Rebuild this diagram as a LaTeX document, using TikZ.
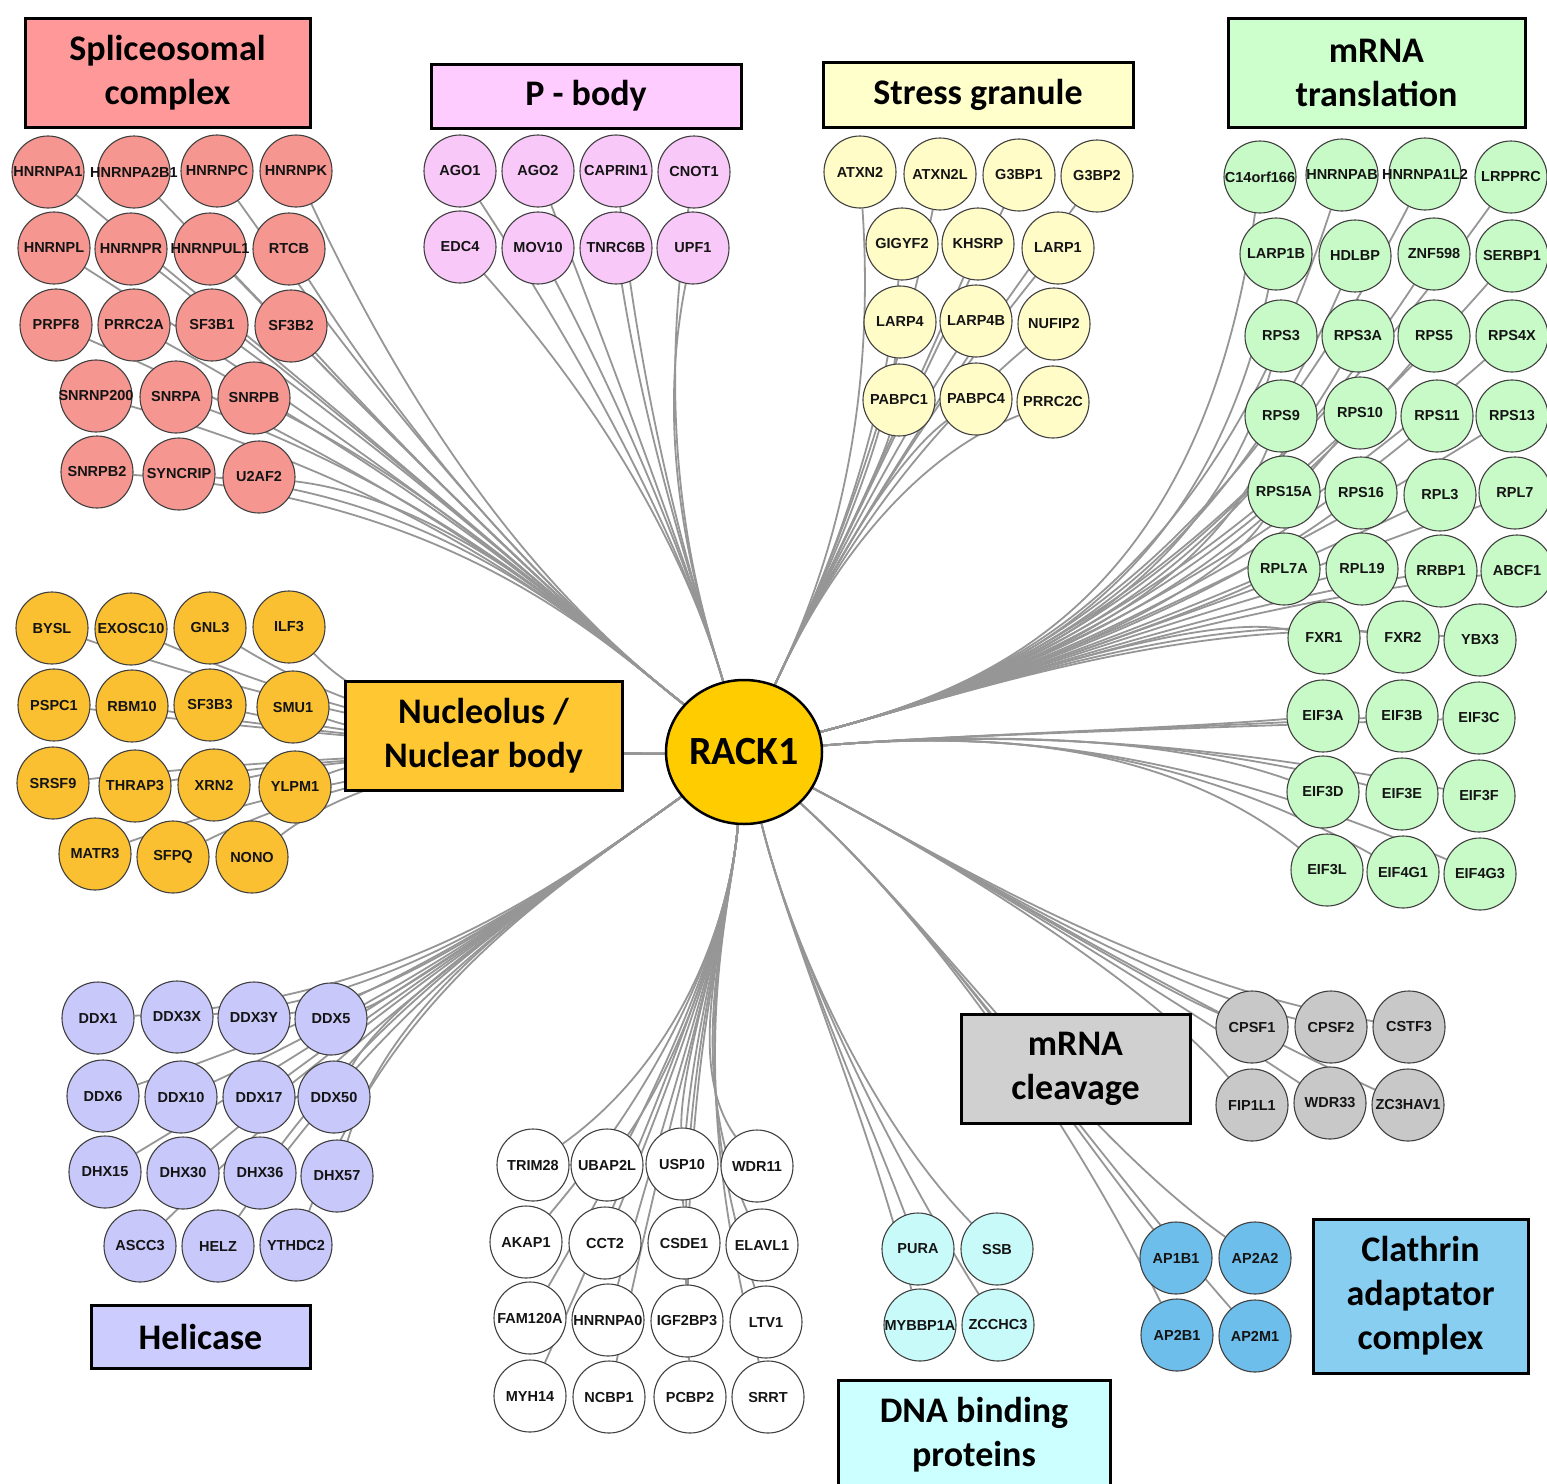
\documentclass[tikz,border=0pt]{standalone}
\usepackage{fontspec}
\setmainfont{Carlito}
\newfontfamily\protfont{Liberation Sans}
\usetikzlibrary{shapes.geometric}
\pgfdeclarelayer{bg}
\pgfsetlayers{bg,main}
\definecolor{cspl}{RGB}{245,150,145}
\definecolor{bspl}{RGB}{255,153,153}
\definecolor{cpb}{RGB}{248,200,248}
\definecolor{bpb}{RGB}{255,204,255}
\definecolor{csg}{RGB}{255,252,200}
\definecolor{bsg}{RGB}{255,255,204}
\definecolor{ctr}{RGB}{200,250,200}
\definecolor{btr}{RGB}{204,255,204}
\definecolor{cnu}{RGB}{250,192,50}
\definecolor{bnu}{RGB}{255,200,50}
\definecolor{che}{RGB}{200,200,250}
\definecolor{bhe}{RGB}{204,204,255}
\definecolor{cdn}{RGB}{200,250,250}
\definecolor{bdn}{RGB}{204,255,255}
\definecolor{ccl}{RGB}{200,200,200}
\definecolor{bcl}{RGB}{208,208,208}
\definecolor{cca}{RGB}{110,190,235}
\definecolor{bca}{RGB}{135,206,240}
\definecolor{rackc}{RGB}{255,204,0}
\definecolor{edgec}{RGB}{150,150,150}
\begin{document}
\begin{tikzpicture}[x=1pt,y=-1pt,
  prot/.style={circle,draw=black!75,line width=1.1pt,minimum size=72pt,inner sep=0pt,
    font=\protfont\bfseries\fontsize{14.5}{14.5}\selectfont,text=black!92,
    execute at begin node={\hbox to 0pt\bgroup\hss},
    execute at end node={\hss\egroup}},
  edge/.style={draw=edgec,line width=1.8pt},
  lab/.style={draw=black,line width=3pt,font=\bfseries\fontsize{36}{44}\selectfont,align=center,inner sep=0pt}]
\useasboundingbox (0,0) rectangle (1547,1483);
\begin{pgfonlayer}{bg}
\fill[white] (0,0) rectangle (1547,1483);
\end{pgfonlayer}

% central node
\node[ellipse,draw=black,line width=2.5pt,fill=rackc,minimum width=156pt,minimum height=144pt,inner sep=0pt,
  font=\bfseries\fontsize{40}{40}\selectfont] (rack) at (744,752) {RACK1};

% Spliceosomal complex
\foreach \n/\x/\y in {HNRNPA1/48/172,HNRNPA2B1/134/172,HNRNPC/217/171,HNRNPK/296/171,
  HNRNPL/54/248,HNRNPR/131/249,HNRNPUL1/210/249,RTCB/289/249,
  PRPF8/56/325,PRRC2A/134/325,SF3B1/212/325,SF3B2/291/326,
  SNRNP200/96/396,SNRPA/176/397,SNRPB/254/398,
  SNRPB2/97/472,SYNCRIP/179/474,U2AF2/259/477}
  \node[prot,fill=cspl] (\n) at (\x,\y) {\n};

% P-body
\foreach \n/\x/\y in {AGO1/460/171,AGO2/538/171,CAPRIN1/616/171,CNOT1/694/172,
  EDC4/460/247,MOV10/538/248,TNRC6B/616/248,UPF1/693/248}
  \node[prot,fill=cpb] (\n) at (\x,\y) {\n};

% Stress granule
\foreach \n/\x/\y in {ATXN2/860/172,ATXN2L/940/174,G3BP1/1019/175,G3BP2/1097/176,
  GIGYF2/902/244,KHSRP/978/244,LARP1/1058/248,
  LARP4/900/322,LARP4B/976/321,NUFIP2/1054/324,
  PABPC1/899/400,PABPC4/976/399,PRRC2C/1053/402}
  \node[prot,fill=csg] (\n) at (\x,\y) {\n};

% mRNA translation
\foreach \n/\x/\y in {C14orf166/1260/177,HNRNPAB/1342/175,HNRNPA1L2/1425/174,LRPPRC/1511/177,
  LARP1B/1276/254,HDLBP/1355/256,ZNF598/1434/254,SERBP1/1512/256,
  RPS3/1281/336,RPS3A/1358/336,RPS5/1434/336,RPS4X/1512/336,
  RPS9/1281/416,RPS10/1360/413,RPS11/1437/416,RPS13/1512/416,
  RPS15A/1284/492,RPS16/1361/493,RPL3/1440/495,RPL7/1515/493,
  RPL7A/1284/569,RPL19/1362/569,RRBP1/1441/571,ABCF1/1517/571,
  FXR1/1324/638,FXR2/1403/637,YBX3/1480/640,
  EIF3A/1323/716,EIF3B/1402/716,EIF3C/1479/718,
  EIF3D/1323/792,EIF3E/1402/794,EIF3F/1479/796,
  EIF3L/1327/870,EIF4G1/1403/872,EIF4G3/1480/874}
  \node[prot,fill=ctr] (\n) at (\x,\y) {\n};

% Nucleolus / nuclear body
\foreach \n/\x/\y in {BYSL/52/628,EXOSC10/131/629,GNL3/210/628,ILF3/289/627,
  PSPC1/54/705,RBM10/132/706,SF3B3/210/705,SMU1/293/707,
  SRSF9/53/783,THRAP3/135/786,XRN2/214/785,YLPM1/295/787,
  MATR3/95/854,SFPQ/173/857,NONO/252/857}
  \node[prot,fill=cnu] (\n) at (\x,\y) {\n};

% Helicase
\foreach \n/\x/\y in {DDX1/98/1018,DDX3X/177/1017,DDX3Y/254/1018,DDX5/331/1019,
  DDX6/103/1096,DDX10/181/1097,DDX17/259/1097,DDX50/334/1097,
  DHX15/105/1172,DHX30/183/1173,DHX36/260/1173,DHX57/337/1176,
  ASCC3/140/1246,HELZ/218/1246,YTHDC2/296/1245}
  \node[prot,fill=che] (\n) at (\x,\y) {\n};

% unlabelled group
\foreach \n/\x/\y in {TRIM28/533/1165,UBAP2L/607/1165,USP10/682/1164,WDR11/757/1166,
  AKAP1/526/1242,CCT2/605/1243,CSDE1/684/1243,ELAVL1/762/1245,
  FAM120A/530/1318,HNRNPA0/608/1320,IGF2BP3/687/1321,LTV1/766/1322,
  MYH14/530/1396,NCBP1/609/1397,PCBP2/690/1397,SRRT/768/1397}
  \node[prot,fill=white] (\n) at (\x,\y) {\n};

% DNA binding
\foreach \n/\x/\y in {PURA/918/1249,SSB/997/1249,MYBBP1A/920/1325,ZCCHC3/998/1325}
  \node[prot,fill=cdn] (\n) at (\x,\y) {\n};

% mRNA cleavage
\foreach \n/\x/\y in {CPSF1/1252/1027,CPSF2/1331/1027,CSTF3/1409/1027,
  FIP1L1/1252/1105,WDR33/1330/1103,ZC3HAV1/1408/1105}
  \node[prot,fill=ccl] (\n) at (\x,\y) {\n};

% Clathrin adaptor
\foreach \n/\x/\y in {AP1B1/1176/1258,AP2A2/1255/1258,AP2B1/1177/1335,AP2M1/1255/1336}
  \node[prot,fill=cca] (\n) at (\x,\y) {\n};

% edges
\begin{pgfonlayer}{bg}
\foreach \n in {HNRNPA1,HNRNPA2B1,HNRNPC,HNRNPK,HNRNPL,HNRNPR,HNRNPUL1,RTCB,PRPF8,PRRC2A,SF3B1,SF3B2,SNRNP200,SNRPA,SNRPB,SNRPB2,SYNCRIP,U2AF2}
  \draw[edge] (\n) .. controls (450,500) and (590,630) .. (rack);
\foreach \n in {AGO1,AGO2,CAPRIN1,CNOT1,EDC4,MOV10,TNRC6B,UPF1}
  \draw[edge] (\n) .. controls (650,460) and (705,620) .. (rack);
\foreach \n in {ATXN2,ATXN2L,G3BP1,G3BP2,GIGYF2,KHSRP,LARP1,LARP4,LARP4B,NUFIP2,PABPC1,PABPC4,PRRC2C}
  \draw[edge] (\n) .. controls (880,470) and (800,630) .. (rack);
\foreach \n in {C14orf166,HNRNPAB,HNRNPA1L2,LRPPRC,LARP1B,HDLBP,ZNF598,SERBP1,RPS3,RPS3A,RPS5,RPS4X,RPS9,RPS10,RPS11,RPS13,RPS15A,RPS16,RPL3,RPL7,RPL7A,RPL19,RRBP1,ABCF1,FXR1,FXR2,YBX3}
  \draw[edge] (\n) .. controls (1200,610) and (980,690) .. (rack);
\foreach \n in {EIF3A,EIF3B,EIF3C,EIF3D,EIF3E,EIF3F,EIF3L,EIF4G1,EIF4G3}
  \draw[edge] (\n) .. controls (1150,730) and (950,735) .. (rack);
\foreach \n in {BYSL,EXOSC10,GNL3,ILF3,PSPC1,RBM10,SF3B3,SMU1,SRSF9,THRAP3,XRN2,YLPM1,MATR3,SFPQ,NONO}
  \draw[edge] (\n) .. controls (400,745) and (600,755) .. (rack);
\foreach \n in {DDX1,DDX3X,DDX3Y,DDX5,DDX6,DDX10,DDX17,DDX50,DHX15,DHX30,DHX36,DHX57,ASCC3,HELZ,YTHDC2}
  \draw[edge] (\n) .. controls (390,1000) and (530,905) .. (rack);
\foreach \n in {TRIM28,UBAP2L,USP10,WDR11,AKAP1,CCT2,CSDE1,ELAVL1,FAM120A,HNRNPA0,IGF2BP3,LTV1,MYH14,NCBP1,PCBP2,SRRT}
  \draw[edge] (\n) .. controls (680,1060) and (730,920) .. (rack);
\foreach \n in {PURA,SSB,MYBBP1A,ZCCHC3}
  \draw[edge] (\n) .. controls (870,1120) and (790,940) .. (rack);
\foreach \n in {CPSF1,CPSF2,CSTF3,FIP1L1,WDR33,ZC3HAV1}
  \draw[edge] (\n) .. controls (1150,985) and (950,860) .. (rack);
\foreach \n in {AP1B1,AP2A2,AP2B1,AP2M1}
  \draw[edge] (\n) .. controls (1075,1130) and (940,930) .. (rack);
\end{pgfonlayer}

% category labels
\node[lab,fill=bspl,minimum width=285pt,minimum height=109pt] (lspl) at (167.5,72.5) {Spliceosomal\\complex};
\node[lab,fill=bpb,minimum width=310pt,minimum height=64pt] (lpb) at (586,96) {P - body};
\node[lab,fill=bsg,minimum width=310pt,minimum height=65pt] (lsg) at (978,94.5) {Stress granule};
\node[lab,fill=btr,minimum width=297pt,minimum height=109pt] (ltr) at (1376.5,72.5) {mRNA\\translation};
\node[lab,fill=bnu,minimum width=277pt,minimum height=109pt] (lnu) at (483.5,735.5) {Nucleolus /\\Nuclear body};
\node[lab,fill=bhe,minimum width=219pt,minimum height=63pt] (lhe) at (200.5,1336.5) {Helicase};
\node[lab,fill=bcl,minimum width=229pt,minimum height=109pt] (lcl) at (1075.5,1068.5) {mRNA\\cleavage};
\node[lab,fill=bca,minimum width=215pt,minimum height=154pt] (lca) at (1420.5,1296) {Clathrin\\adaptator\\complex};
\node[lab,fill=bdn,minimum width=272pt,minimum height=110pt] (ldn) at (974,1435) {DNA binding\\proteins};
\end{tikzpicture}
\end{document}
